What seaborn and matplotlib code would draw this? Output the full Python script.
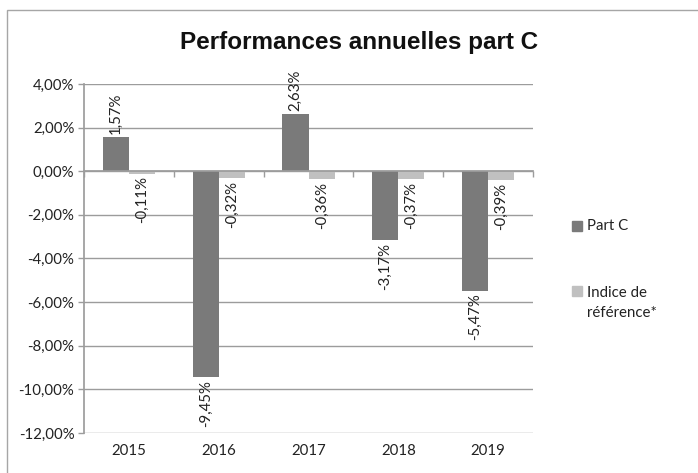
import matplotlib
matplotlib.use("Agg")
import matplotlib.pyplot as plt
import matplotlib.transforms as mtransforms
from matplotlib.patches import Rectangle
import seaborn as sns
import pandas as pd

years = ["2015", "2016", "2017", "2018", "2019"]
part_c = [1.57, -9.45, 2.63, -3.17, -5.47]
indice = [-0.11, -0.32, -0.36, -0.37, -0.39]
series_names = ["Part C", "Indice de\nréférence*"]
y_ticks = [4, 2, 0, -2, -4, -6, -8, -10, -12]
title = "Performances annuelles part C"

df = pd.DataFrame({
    "year": years * 2,
    "value": part_c + indice,
    "series": [series_names[0]] * len(years) + [series_names[1]] * len(years),
})

sns.set_theme(style="white")
plt.rcParams["font.family"] = ["Lato", "DejaVu Sans"]

W, H = 698, 473
fig = plt.figure(figsize=(W / 100, H / 100), dpi=100)
ax = fig.add_axes([84 / W, 1 - 433 / H, (533 - 84) / W, (433 - 84) / H])

dark = "#7a7a7a"
light = "#c0c0c0"
txt = "#222222"
gridc = "#9c9c9c"
fs = 10.8

sns.barplot(data=df, x="year", y="value", hue="series", order=years,
            hue_order=series_names, palette=[dark, light], width=0.58,
            saturation=1, ax=ax, legend=False, edgecolor="none")

ax.set_ylim(-12, 4)
ax.set_xlim(-0.5, len(years) - 0.5)
ax.set_yticks(y_ticks)
ax.set_yticklabels([f"{v:.2f}".replace(".", ",") + "%" for v in y_ticks],
                   fontsize=fs, color=txt)
ax.yaxis.grid(True, color=gridc, linewidth=1)
ax.set_axisbelow(True)
ax.set_xlabel("")
ax.set_ylabel("")

for s in ["top", "right"]:
    ax.spines[s].set_visible(False)
ax.spines["left"].set_color(gridc)
ax.spines["bottom"].set_color(gridc)
ax.spines["bottom"].set_position(("data", 0))
ax.set_xticks([i - 0.5 for i in range(len(years) + 1)])
ax.set_xticklabels([])
ax.tick_params(axis="x", direction="out", length=4, color=gridc, width=1, bottom=True)
ax.tick_params(axis="y", direction="out", length=4, color=gridc, width=1, left=True, pad=3)

trans = mtransforms.blended_transform_factory(ax.transData, ax.transAxes)
for i, y in enumerate(years):
    ax.text(i, -0.052, y, transform=trans, ha="center", va="center",
            fontsize=fs, color=txt)

for cont in ax.containers:
    for bar in cont:
        h = bar.get_height()
        xc = bar.get_x() + bar.get_width() / 2
        lab = f"{h:.2f}".replace(".", ",") + "%"
        if h >= 0:
            ax.annotate(lab, (xc, h), xytext=(0, 2), textcoords="offset points",
                        rotation=90, ha="center", va="bottom", fontsize=fs, color=txt)
        else:
            ax.annotate(lab, (xc, h), xytext=(0, -2), textcoords="offset points",
                        rotation=90, ha="center", va="top", fontsize=fs, color=txt)

fig.text(359 / W, 1 - 49.5 / H, title, ha="center", va="baseline",
         fontsize=17.5, fontweight="bold", color="#111111",
         family=["Liberation Sans", "DejaVu Sans"])

# legend
fig.patches.append(Rectangle((572 / W, 1 - 231 / H), 10 / W, 10 / H,
                             transform=fig.transFigure, color=dark))
fig.text(587 / W, 1 - 226 / H, series_names[0], ha="left", va="center",
         fontsize=fs, color=txt)
fig.patches.append(Rectangle((572 / W, 1 - 296 / H), 10 / W, 10 / H,
                             transform=fig.transFigure, color=light))
fig.text(587 / W, 1 - 303 / H, series_names[1], ha="left", va="center",
         fontsize=fs, color=txt, linespacing=1.55)

fig.patches.append(Rectangle((7 / W, -0.1), 1.2, 1 - 10 / H + 0.1,
                             transform=fig.transFigure, fill=False,
                             edgecolor="#a6a6a6", linewidth=1))

fig.savefig("out.png", dpi=100)
